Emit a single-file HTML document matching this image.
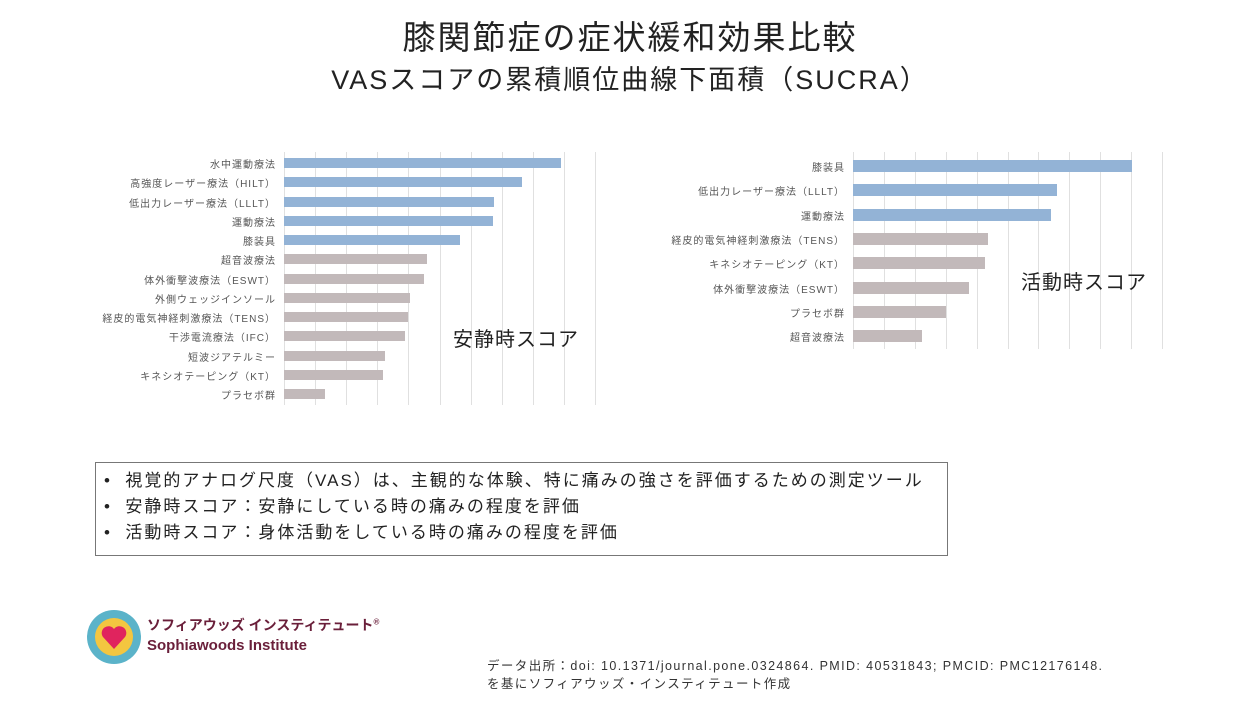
<!DOCTYPE html>
<html><head><meta charset="utf-8"><style>
body{margin:0;width:1260px;height:709px;background:#fff;font-family:"Liberation Sans","Noto Sans CJK JP",sans-serif;position:relative;overflow:hidden;color:#222}
.t{position:absolute;white-space:nowrap}
.lab{position:absolute;font-size:10px;letter-spacing:1px;color:#555;text-align:right;white-space:nowrap}
.bar{position:absolute}
.g{position:absolute;width:1px;background:#e0e0e0}
</style></head><body>
<div class="t" style="left:0;width:1260px;text-align:center;top:11px;font-size:33px;letter-spacing:2px;">膝関節症の症状緩和効果比較</div>
<div class="t" style="left:0;width:1260px;text-align:center;top:58px;font-size:27px;letter-spacing:2px;">VASスコアの累積順位曲線下面積（SUCRA）</div>
<div id="c"></div>
<div class="t" style="left:453px;top:323px;font-size:20px;letter-spacing:1px;">安静時スコア</div>
<div class="t" style="left:1021px;top:266px;font-size:20px;letter-spacing:1px;">活動時スコア</div>
<div style="position:absolute;left:95px;top:462px;width:851px;height:92px;border:1px solid #777;"></div>
<div class="t" style="left:104px;top:468px;font-size:17px;letter-spacing:2px;line-height:26px;">•&nbsp; 視覚的アナログ尺度（VAS）は、主観的な体験、特に痛みの強さを評価するための測定ツール<br>•&nbsp; 安静時スコア：安静にしている時の痛みの程度を評価<br>•&nbsp; 活動時スコア：身体活動をしている時の痛みの程度を評価</div>
<svg style="position:absolute;left:86px;top:609px" width="56" height="56"><circle cx="28" cy="28" r="27" fill="#5bb3c9"/><circle cx="28" cy="28" r="19" fill="#f3c640"/><path d="M28 40 L17 28 A6 6 0 0 1 28 20 A6 6 0 0 1 39 28 Z" fill="#e0245e"/></svg>
<div class="t" style="left:147px;top:615px;font-size:14px;font-weight:bold;color:#6a1f3a;">ソフィアウッズ インスティテュート<sup style="font-size:8px">®</sup></div>
<div class="t" style="left:147px;top:637px;font-size:15px;font-weight:bold;color:#6a1f3a;">Sophiawoods Institute</div>
<div class="t" style="left:487px;top:657px;font-size:12.5px;letter-spacing:1.4px;line-height:18px;color:#333;">データ出所：doi: 10.1371/journal.pone.0324864. PMID: 40531843; PMCID: PMC12176148.<br>を基にソフィアウッズ・インスティテュート作成</div>
<script>
var c=document.getElementById('c'),h='';
function chart(x0,gs,n,top,bot,labs,ends,y0,dy,bh,nb){
 for(var i=0;i<=n;i++)h+='<div class="g" style="left:'+(x0+i*gs)+'px;top:'+top+'px;height:'+(bot-top)+'px"></div>';
 labs.forEach(function(l,i){var y=y0+i*dy;
 h+='<div class="lab" style="right:'+(1260-x0+8)+'px;top:'+(y-7)+'px">'+l+'</div>';
 h+='<div class="bar" style="left:'+x0+'px;top:'+(y-bh/2)+'px;width:'+(ends[i]-x0)+'px;height:'+bh+'px;background:'+(i<nb?'#93b3d6':'#c2b9ba')+'"></div>';});
}
chart(284,31.1,10,152,405,["水中運動療法","高強度レーザー療法（HILT）","低出力レーザー療法（LLLT）","運動療法","膝装具","超音波療法","体外衝撃波療法（ESWT）","外側ウェッジインソール","経皮的電気神経刺激療法（TENS）","干渉電流療法（IFC）","短波ジアテルミー","キネシオテーピング（KT）","プラセボ群"],[561,522,494,493,460,427,424,410,408,405,385,383,325],163,19.25,10,5);
chart(853,30.9,10,152,349,["膝装具","低出力レーザー療法（LLLT）","運動療法","経皮的電気神経刺激療法（TENS）","キネシオテーピング（KT）","体外衝撃波療法（ESWT）","プラセボ群","超音波療法"],[1132,1057,1051,988,985,969,946,922],166,24.3,12,3);
c.innerHTML=h;
</script>
</body></html>
